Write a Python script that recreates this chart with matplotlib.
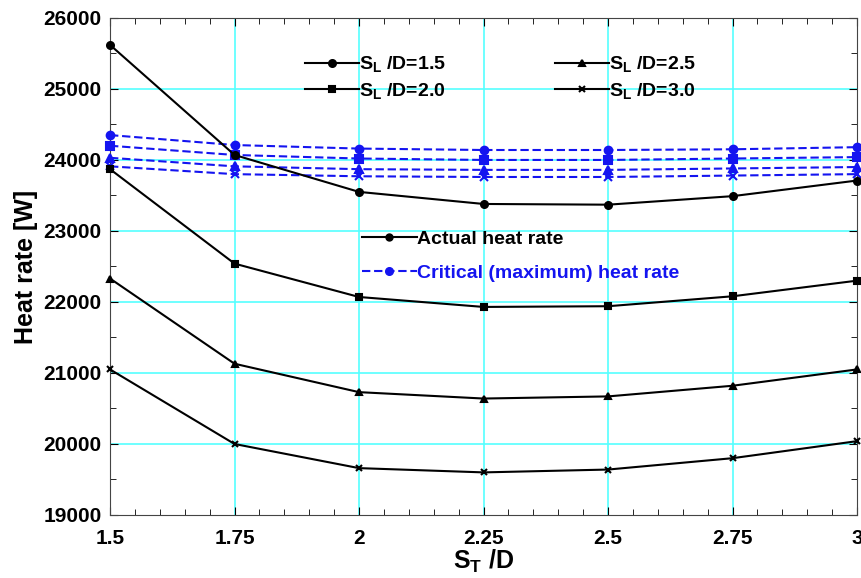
import matplotlib
matplotlib.use("Agg")
import matplotlib.pyplot as plt
from matplotlib.lines import Line2D
from matplotlib.ticker import MultipleLocator, FixedLocator

plt.rcParams['font.family'] = ['Liberation Sans', 'DejaVu Sans']
plt.rcParams['font.weight'] = 'bold'
plt.rcParams['mathtext.fontset'] = 'custom'
plt.rcParams['mathtext.rm'] = 'Liberation Sans:bold'
plt.rcParams['mathtext.it'] = 'Liberation Sans:bold'
plt.rcParams['mathtext.bf'] = 'Liberation Sans:bold'

st_d = [1.5, 1.75, 2.0, 2.25, 2.5, 2.75, 3.0]
x_ticklabels = ['1.5', '1.75', '2', '2.25', '2.5', '2.75', '3']

actual_15 = [25620, 24070, 23550, 23380, 23370, 23490, 23710]
actual_20 = [23870, 22540, 22070, 21930, 21940, 22080, 22300]
actual_25 = [22330, 21130, 20730, 20640, 20670, 20820, 21050]
actual_30 = [21050, 20000, 19660, 19600, 19640, 19800, 20040]

crit_15 = [24350, 24210, 24160, 24140, 24140, 24150, 24180]
crit_20 = [24200, 24070, 24020, 24000, 24000, 24020, 24040]
crit_25 = [24030, 23910, 23870, 23860, 23860, 23880, 23900]
crit_30 = [23910, 23800, 23770, 23760, 23760, 23780, 23800]

labels = ['$\\mathregular{S_L}$ /D=1.5', '$\\mathregular{S_L}$ /D=2.0',
          '$\\mathregular{S_L}$ /D=2.5', '$\\mathregular{S_L}$ /D=3.0']
markers = ['o', 's', '^', 'x']
blue = '#1414f0'

fig = plt.figure(figsize=(8.61, 5.78), dpi=100)
ax = fig.add_axes([0.1278, 0.109, 0.8676, 0.860])

grid_c = '#55ffff'
for xv in st_d[1:-1]:
    ax.axvline(xv, color=grid_c, lw=1.2, zorder=0)
for yv in range(20000, 26000, 1000):
    ax.axhline(yv, color=grid_c, lw=1.2, zorder=0)

actuals = [actual_15, actual_20, actual_25, actual_30]
crits = [crit_15, crit_20, crit_25, crit_30]
for a, c, m in zip(actuals, crits, markers):
    ax.plot(st_d, c, color=blue, ls=(0, (4, 1.8)), lw=1.5, marker=m, ms=5.5,
            mew=1.5, zorder=3, clip_on=False)
    ax.plot(st_d, a, color='black', lw=1.5, marker=m, ms=5, mew=1.5,
            zorder=4, clip_on=False)

ax.set_xlim(1.5, 3.0)
ax.set_ylim(19000, 26000)
ax.xaxis.set_major_locator(FixedLocator(st_d))
ax.set_xticklabels(x_ticklabels)
ax.xaxis.set_minor_locator(MultipleLocator(0.05))
ax.yaxis.set_major_locator(MultipleLocator(1000))
ax.yaxis.set_minor_locator(MultipleLocator(500))
ax.tick_params(which='both', direction='in', top=True, right=True)
ax.tick_params(which='major', length=6, labelsize=15, pad=10)
ax.tick_params(which='minor', length=4)
ax.tick_params(axis='y', which='major', pad=6)
for lab in ax.get_xticklabels() + ax.get_yticklabels():
    lab.set_fontweight('bold')
for sp in ax.spines.values():
    sp.set_color('#444444')

ax.set_xlabel('$\\mathregular{S_T}$ /D', fontsize=18, fontweight='bold', labelpad=0)
ax.set_ylabel('Heat rate [W]', fontsize=18, fontweight='bold', labelpad=4)

handles = [Line2D([], [], color='black', lw=1.5, marker=m, ms=5, mew=1.5) for m in markers]
leg1 = ax.legend(handles, labels, ncol=2, loc='upper left', bbox_to_anchor=(0.237, 0.962),
                 frameon=False, handlelength=2.8, handletextpad=0.0,
                 columnspacing=5.6, labelspacing=0.35, prop={'weight': 'bold', 'size': 14})
ax.add_artist(leg1)

h2 = [Line2D([], [], color='black', lw=1.5, marker='o', ms=5),
      Line2D([], [], color=blue, lw=1.5, ls=(0, (4, 1.8)), marker='o', ms=5.5)]
leg2 = ax.legend(h2, ['Actual heat rate', 'Critical (maximum) heat rate'],
                 loc='upper left', bbox_to_anchor=(0.314, 0.608), frameon=False,
                 handlelength=2.8, handletextpad=0.0, labelspacing=0.85,
                 prop={'weight': 'bold', 'size': 14})
leg2.get_texts()[1].set_color(blue)

fig.savefig('out.png', dpi=100)
